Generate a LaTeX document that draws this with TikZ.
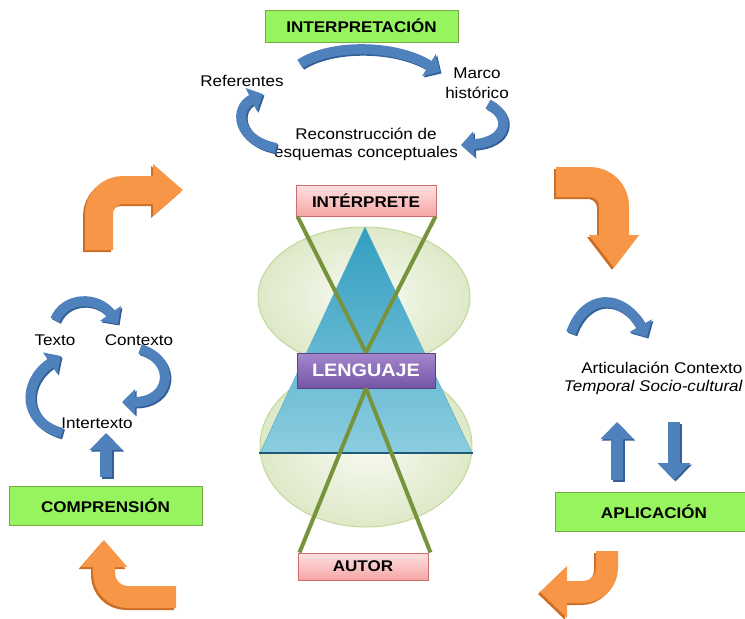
\documentclass[tikz,border=0pt]{standalone}
\usepackage{fontspec}
\setmainfont{Liberation Sans}[FakeStretch=1.1]
\usetikzlibrary{arrows.meta}
\definecolor{stagegreen}{RGB}{150,245,95}
\definecolor{stageedge}{RGB}{118,168,70}
\definecolor{arrowblue}{RGB}{79,129,189}
\definecolor{arrowbluedark}{RGB}{50,95,150}
\definecolor{arroworange}{RGB}{247,150,70}
\definecolor{orangeshade}{RGB}{205,110,40}
\definecolor{lineolive}{RGB}{119,147,60}

\begin{document}
\begin{tikzpicture}[x=1pt,y=-1pt,
    stagebox/.style={draw=stageedge, fill=stagegreen, line width=1pt, font=\fontsize{15.5}{18}\selectfont\bfseries},
    rolebox/.style={draw={rgb,255:red,205;green,110;blue,110}, top color={rgb,255:red,255;green,225;blue,225}, bottom color={rgb,255:red,245;green,165;blue,165}, line width=1pt, font=\fontsize{15.5}{18}\selectfont\bfseries},
    langbox/.style={draw={rgb,255:red,90;green,65;blue,130}, top color={rgb,255:red,165;green,135;blue,205}, bottom color={rgb,255:red,115;green,85;blue,165}, line width=1pt, text=white, font=\fontsize{18}{20}\selectfont\bfseries},
    plain/.style={font=\fontsize{15.5}{18}\selectfont},
    bluearc/.style={line width=10pt, -{Triangle[length=13pt,width=25pt]}},
    bluestraight/.style={line width=12pt, -{Triangle[length=17pt,width=32pt]}},
    bentarrow/.style={rounded corners=24pt}]
\useasboundingbox (0,0) rectangle (745,619);

\shade[draw={rgb,255:red,196;green,215;blue,155}, line width=1pt, inner color={rgb,255:red,248;green,250;blue,242}, outer color={rgb,255:red,222;green,233;blue,200}] (364,297) ellipse [x radius=106, y radius=70];
\shade[draw={rgb,255:red,196;green,215;blue,155}, line width=1pt, inner color={rgb,255:red,248;green,250;blue,242}, outer color={rgb,255:red,222;green,233;blue,200}] (366,446) ellipse [x radius=106, y radius=81];
\shade[draw={rgb,255:red,75;green,172;blue,198}, top color={rgb,255:red,50;green,158;blue,192}, bottom color={rgb,255:red,140;green,205;blue,224}] (365,227) -- (472,453) -- (260,453) -- cycle;
\draw[line width=2.5pt, color={rgb,255:red,30;green,90;blue,115}] (259,453) -- (473,453);

\node[stagebox, minimum width=193pt, minimum height=32pt] (interpretacion) at (361.5,26) {INTERPRETACIÓN};
\node[stagebox, minimum width=193pt, minimum height=39pt] (comprension) at (105.5,505.5) {COMPRENSIÓN};
\node[stagebox, minimum width=198pt, minimum height=39pt] (aplicacion) at (654,511.5) {APLICACIÓN};
\node[rolebox, minimum width=140pt, minimum height=31pt] (interprete) at (366,200.5) {INTÉRPRETE};
\node[rolebox, minimum width=130pt, minimum height=27pt] (autor) at (363,566.5) {AUTOR};
\node[langbox, minimum width=138pt, minimum height=35pt] (lenguaje) at (366,370.5) {LENGUAJE};

\draw[lineolive, line width=4pt] ([xshift=2pt]interprete.south west) -- (lenguaje.north);
\draw[lineolive, line width=4pt] ([xshift=-1pt]interprete.south east) -- (lenguaje.north);
\draw[lineolive, line width=4pt] (lenguaje.south) -- ([xshift=2pt]autor.north west);
\draw[lineolive, line width=4pt] (lenguaje.south) -- ([xshift=2pt]autor.north east);

\node[plain, anchor=base] (referentes) at (242,86) {Referentes};
\node[plain, anchor=base] (marco) at (477,78) {Marco};
\node[plain, anchor=base] (historico) at (477,98) {histórico};
\node[plain, anchor=base] (reconstruccion) at (366,139) {Reconstrucción de};
\node[plain, anchor=base] (esquemas) at (366,157) {esquemas conceptuales};
\node[plain, anchor=base] (texto) at (55,345) {Texto};
\node[plain, anchor=base] (contexto) at (139,345) {Contexto};
\node[plain, anchor=base] (intertexto) at (97,428) {Intertexto};
\node[plain, anchor=base east] (articulacion) at (746,373) {Articulación Contexto};
\node[plain, anchor=base east] (temporal) at (746,391) {\itshape Temporal Socio-cultural};

\foreach \d/\c in {1.5/arrowbluedark, 0/arrowblue}{
    \begin{scope}[shift={(\d,\d)}, color=\c]
    \draw[bluearc] (300,64) .. controls (330,44) and (395,44) .. (440,72);
    \draw[bluearc] (276,148) .. controls (236,140) and (234,108) .. (263,94);
    \draw[bluearc] (488,104) .. controls (512,116) and (508,142) .. (461,145);
    \draw[bluearc] (55,320) .. controls (65,296) and (98,296) .. (118,324);
    \draw[bluearc] (62,433) .. controls (22,422) and (22,382) .. (61,356);
    \draw[bluearc] (140,349) .. controls (176,360) and (172,402) .. (122,402);
    \draw[bluearc] (571,333) .. controls (585,293) and (622,293) .. (647,337);
    \draw[bluestraight] (106,477) -- (106,433);
    \draw[bluestraight] (617,480) -- (617,422);
    \draw[bluestraight] (674,422) -- (674,480);
    \end{scope}
}

\foreach \d/\c in {2/orangeshade, 0/arroworange}{
    \begin{scope}[shift={(-\d,\d)}, color=\c]
    \draw[bentarrow, line width=28pt, -{Triangle[length=30pt,width=50pt]}] (99,250) |- (183,190);
    \draw[bentarrow, line width=30pt, -{Triangle[length=33pt,width=48pt]}] (556,182) -| (614,268);
    \draw[bentarrow, line width=22pt, -{Triangle[length=27pt,width=45pt]}] (176,597) -| (104,540);
    \draw[bentarrow, line width=22pt, -{Triangle[length=27pt,width=50pt]}] (607,551) |- (540,592);
    \end{scope}
}
\end{tikzpicture}
\end{document}
